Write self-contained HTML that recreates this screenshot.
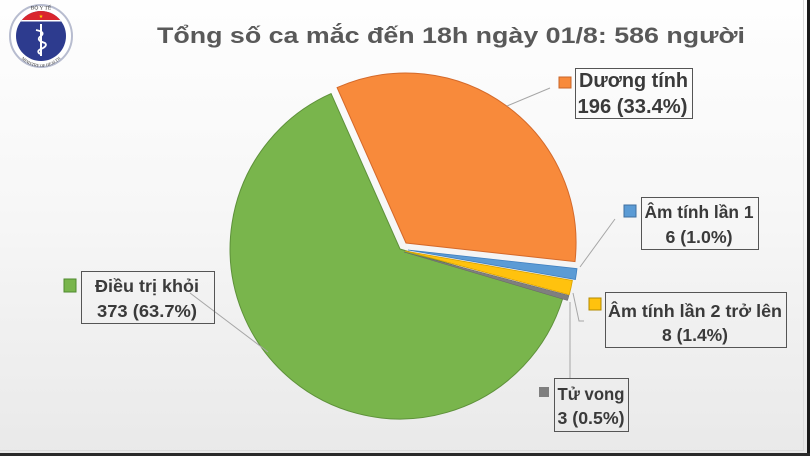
<!DOCTYPE html>
<html><head><meta charset="utf-8"><style>
html,body{margin:0;padding:0;width:810px;height:456px;overflow:hidden;background:#f4f4f4}
svg{display:block}
</style></head><body>
<svg width="810" height="456" viewBox="0 0 810 456" xmlns="http://www.w3.org/2000/svg">
<defs>
<linearGradient id="bg" x1="0" y1="0" x2="0" y2="1">
<stop offset="0" stop-color="#fefefe"/>
<stop offset="0.45" stop-color="#f7f7f7"/>
<stop offset="1" stop-color="#e9e9e9"/>
</linearGradient>
<clipPath id="inner"><circle cx="41" cy="36" r="25"/></clipPath>
<path id="arcB" d="M14,40 A27,27 0 0 0 68,40"/>
</defs>
<rect width="810" height="456" fill="url(#bg)"/>
<line x1="803.5" y1="0" x2="803.5" y2="451" stroke="#dcdcdc" stroke-width="1"/>
<line x1="0" y1="450.5" x2="804" y2="450.5" stroke="#dcdcdc" stroke-width="1"/>
<rect x="807" y="0" width="3" height="456" fill="#1a1a1a"/>
<rect x="0" y="453" width="810" height="3" fill="#2a2a2a"/>

<!-- logo -->
<circle cx="41" cy="36" r="31" fill="#ffffff" stroke="#b7bccf" stroke-width="2"/>
<circle cx="41" cy="36" r="25" fill="#2d3b8e"/>
<g clip-path="url(#inner)">
<rect x="10" y="8" width="62" height="12" fill="#d9262e"/>
<rect x="10" y="20" width="62" height="1.5" fill="#ffffff"/>
</g>
<text x="41" y="18" font-family="Liberation Sans, sans-serif" font-size="5" fill="#ffd400" text-anchor="middle">★</text>
<text x="41" y="9.5" font-family="Liberation Serif, serif" font-size="5.5" fill="#333" text-anchor="middle">BỘ Y TẾ</text>
<path d="M41,24 L41,56" stroke="#fff" stroke-width="2"/>
<path d="M36,30 Q46,32 41,36 Q35,40 45,43 Q48,46 41,49 Q36,51 40,54" stroke="#fff" stroke-width="1.8" fill="none"/>
<text font-family="Liberation Serif, serif" font-size="4.2" fill="#333"><textPath href="#arcB" startOffset="50%" text-anchor="middle">MINISTRY OF HEALTH</textPath></text>

<!-- title -->
<text x="157" y="43" font-family="Liberation Sans, sans-serif" font-weight="bold" font-size="22.5" fill="#595959" textLength="588" lengthAdjust="spacingAndGlyphs">Tổng số ca mắc đến 18h ngày 01/8: 586 người</text>

<!-- pie -->
<path d="M400,249 L562.9,297.9 A170,170 0 1 1 331.1,93.6 Z" fill="#79b54c" stroke="#5e913a" stroke-width="1"/>
<path d="M406,243 L337.1,87.6 A170,170 0 0 1 575,261.6 Z" fill="#f88a3b" stroke="#d4692a" stroke-width="1"/>
<path d="M408,250 L577,268.6 A170,170 0 0 1 575.4,279.5 Z" fill="#5b9bd5" stroke="#3f7fbf" stroke-width="0.8"/>
<path d="M405,251 L572.4,280.5 A170,170 0 0 1 569.3,294.7 Z" fill="#ffc20e" stroke="#d9a200" stroke-width="0.8"/>
<path d="M404,252 L569,295.5 A170,170 0 0 1 567.5,300.5 Z" fill="#7f7f7f" stroke="#666" stroke-width="0.5"/>

<!-- leader lines -->
<g stroke="#a6a6a6" stroke-width="1" fill="none">
<path d="M507,106 L550,88"/>
<path d="M580,267 L615,219"/>
<path d="M573,293 L579,321 L584,321"/>
<path d="M570,302 L570,378"/>
<path d="M190,293 L268,352"/>
</g>

<!-- labels -->
<g font-family="Liberation Sans, sans-serif" font-weight="bold" fill="#3a3a3a" text-anchor="middle">
<rect x="575.5" y="68.5" width="117" height="50" fill="none" stroke="#555" stroke-width="1"/>
<rect x="559" y="77" width="12" height="11" fill="#f88a3b" stroke="#c8652a" stroke-width="1"/>
<text x="633.5" y="87" font-size="20" textLength="109" lengthAdjust="spacingAndGlyphs">Dương tính</text>
<text x="632.5" y="113" font-size="20" textLength="110" lengthAdjust="spacingAndGlyphs">196 (33.4%)</text>

<rect x="641.5" y="197.5" width="117" height="52" fill="none" stroke="#555" stroke-width="1"/>
<rect x="624" y="205" width="12" height="12" fill="#5b9bd5" stroke="#3f6fa0" stroke-width="1"/>
<text x="699" y="218" font-size="17.5" textLength="109" lengthAdjust="spacingAndGlyphs">Âm tính lần 1</text>
<text x="699" y="243" font-size="17.5" textLength="67" lengthAdjust="spacingAndGlyphs">6 (1.0%)</text>

<rect x="605.5" y="292.5" width="181" height="55" fill="none" stroke="#555" stroke-width="1"/>
<rect x="589" y="298" width="12" height="12" fill="#ffc20e" stroke="#b38a00" stroke-width="1"/>
<text x="695" y="317" font-size="17.5" textLength="174" lengthAdjust="spacingAndGlyphs">Âm tính lần 2 trở lên</text>
<text x="695" y="341" font-size="17.5" textLength="66" lengthAdjust="spacingAndGlyphs">8 (1.4%)</text>

<rect x="554.5" y="378.5" width="74" height="53" fill="none" stroke="#555" stroke-width="1"/>
<rect x="539" y="387" width="10" height="10" fill="#7f7f7f"/>
<text x="591" y="400" font-size="17.5" textLength="67" lengthAdjust="spacingAndGlyphs">Tử vong</text>
<text x="591" y="424" font-size="17.5" textLength="67" lengthAdjust="spacingAndGlyphs">3 (0.5%)</text>

<rect x="81.5" y="271.5" width="133" height="52" fill="none" stroke="#555" stroke-width="1"/>
<rect x="64" y="279" width="12" height="13" fill="#79b54c" stroke="#4f8a2e" stroke-width="1"/>
<text x="147" y="292" font-size="17.5" textLength="104" lengthAdjust="spacingAndGlyphs">Điều trị khỏi</text>
<text x="147" y="317" font-size="17.5" textLength="100" lengthAdjust="spacingAndGlyphs">373 (63.7%)</text>
</g>
</svg>
</body></html>
